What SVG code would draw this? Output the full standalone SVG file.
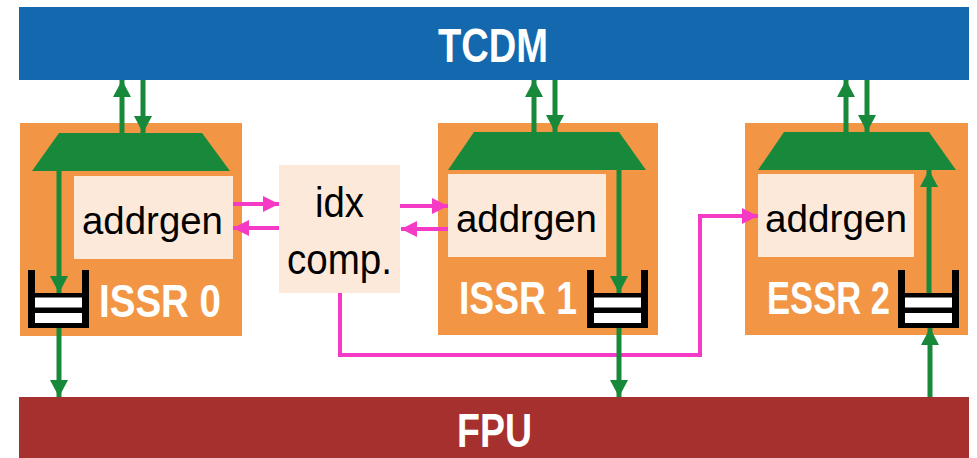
<svg xmlns="http://www.w3.org/2000/svg" width="977" height="458" viewBox="0 0 977 458">
<defs>
<style>
.box{fill:#F29646}
.trap{fill:#18893A}
.ag{fill:#FCE9DA}
.blk{fill:#000}
.wht{fill:#fff}
.big{font-family:"Liberation Sans",Arial,sans-serif;font-weight:bold;font-size:48px;fill:#fff}
.lbl{font-family:"Liberation Sans",Arial,sans-serif;font-weight:bold;font-size:47px;fill:#fff}
.ag-t{font-family:"Liberation Sans",Arial,sans-serif;font-size:38px;fill:#000}
.idx-t{font-family:"Liberation Sans",Arial,sans-serif;font-size:43px;fill:#000;text-anchor:middle}
.g{stroke:#18893A;stroke-width:5;fill:none;marker-end:url(#ga)}
.p{stroke:#F53AC6;stroke-width:4;fill:none}
.pa{marker-end:url(#pa)}
</style>
<marker id="ga" markerUnits="userSpaceOnUse" markerWidth="17" markerHeight="18" refX="17" refY="9" orient="auto">
<path d="M0,0 L17,9 L0,18 z" fill="#18893A"/>
</marker>
<marker id="pa" markerUnits="userSpaceOnUse" markerWidth="16" markerHeight="16" refX="16" refY="8" orient="auto">
<path d="M0,0 L16,8 L0,16 z" fill="#F53AC6"/>
</marker>
</defs>
<rect width="977" height="458" fill="#fff"/>

<g id="tcdm">
<rect x="19" y="7" width="950" height="73" fill="#1469AE"/>
<text class="big" x="438" y="62" textLength="110" lengthAdjust="spacingAndGlyphs">TCDM</text>
</g>

<g id="fpu">
<rect x="19" y="397" width="950" height="61" fill="#A5302E"/>
<text class="big" x="457" y="447" textLength="75" lengthAdjust="spacingAndGlyphs">FPU</text>
</g>

<g id="issr0">
<rect class="box" x="20" y="123" width="222" height="213"/>
<path class="trap" d="M59,133 L202,133 L230,171 L32,171 z"/>
<rect class="ag" x="74" y="176" width="159" height="83"/>
<text class="ag-t" x="82" y="234" textLength="141" lengthAdjust="spacingAndGlyphs">addrgen</text>
<rect class="blk" x="28" y="270" width="7" height="58"/>
<rect class="blk" x="82" y="270" width="7" height="58"/>
<rect class="blk" x="28" y="293" width="61" height="35"/>
<rect class="wht" x="35" y="297.5" width="47" height="10"/>
<rect class="wht" x="35" y="313" width="47" height="10"/>
<text class="lbl" x="99" y="317" textLength="122" lengthAdjust="spacingAndGlyphs">ISSR 0</text>
</g>

<g id="idxcomp">
<rect class="ag" x="279" y="165" width="121" height="128"/>
<text class="idx-t" x="339.5" y="217" textLength="49" lengthAdjust="spacingAndGlyphs">idx</text>
<text class="idx-t" x="339.5" y="274" textLength="105" lengthAdjust="spacingAndGlyphs">comp.</text>
</g>

<g id="issr1">
<rect class="box" x="438" y="123" width="220" height="212"/>
<path class="trap" d="M474,132 L619,132 L646,170 L448,170 z"/>
<rect class="ag" x="448" y="174" width="158" height="83"/>
<text class="ag-t" x="456" y="232" textLength="141" lengthAdjust="spacingAndGlyphs">addrgen</text>
<rect class="blk" x="587" y="270" width="7" height="58"/>
<rect class="blk" x="641" y="270" width="7" height="58"/>
<rect class="blk" x="587" y="293" width="61" height="35"/>
<rect class="wht" x="594" y="297.5" width="47" height="10"/>
<rect class="wht" x="594" y="313" width="47" height="10"/>
<text class="lbl" x="459" y="314" textLength="118" lengthAdjust="spacingAndGlyphs">ISSR 1</text>
</g>

<g id="essr2">
<rect class="box" x="745" y="123" width="223" height="212"/>
<path class="trap" d="M784,132 L929,132 L956,170 L758,170 z"/>
<rect class="ag" x="758" y="174" width="156" height="83"/>
<text class="ag-t" x="765" y="232" textLength="142" lengthAdjust="spacingAndGlyphs">addrgen</text>
<rect class="blk" x="898" y="270" width="7" height="58"/>
<rect class="blk" x="952" y="270" width="7" height="58"/>
<rect class="blk" x="898" y="293" width="61" height="35"/>
<rect class="wht" x="905" y="297.5" width="47" height="10"/>
<rect class="wht" x="905" y="313" width="47" height="10"/>
<text class="lbl" x="767" y="314" textLength="123" lengthAdjust="spacingAndGlyphs">ESSR 2</text>
</g>

<g id="connectors">
<line class="p pa" x1="233" y1="204" x2="279" y2="204"/>
<line class="p pa" x1="279" y1="228" x2="233" y2="228"/>
<line class="p pa" x1="400" y1="206" x2="448" y2="206"/>
<line class="p pa" x1="448" y1="229" x2="401" y2="229"/>
<path class="p pa" d="M340,293 L340,355 L700,355 L700,216 L758,216"/>

<line class="g" x1="122" y1="133" x2="122" y2="80"/>
<line class="g" x1="143" y1="80" x2="143" y2="133"/>
<line class="g" x1="59" y1="171" x2="59" y2="293"/>
<line class="g" x1="59" y1="328" x2="59" y2="397"/>

<line class="g" x1="534" y1="132" x2="534" y2="80"/>
<line class="g" x1="555" y1="80" x2="555" y2="132"/>
<line class="g" x1="619" y1="170" x2="619" y2="293"/>
<line class="g" x1="619" y1="328" x2="619" y2="397"/>

<line class="g" x1="846" y1="132" x2="846" y2="80"/>
<line class="g" x1="867" y1="80" x2="867" y2="132"/>
<line class="g" x1="929" y1="293" x2="929" y2="170"/>
<line class="g" x1="930" y1="397" x2="930" y2="328"/>
</g>
</svg>
